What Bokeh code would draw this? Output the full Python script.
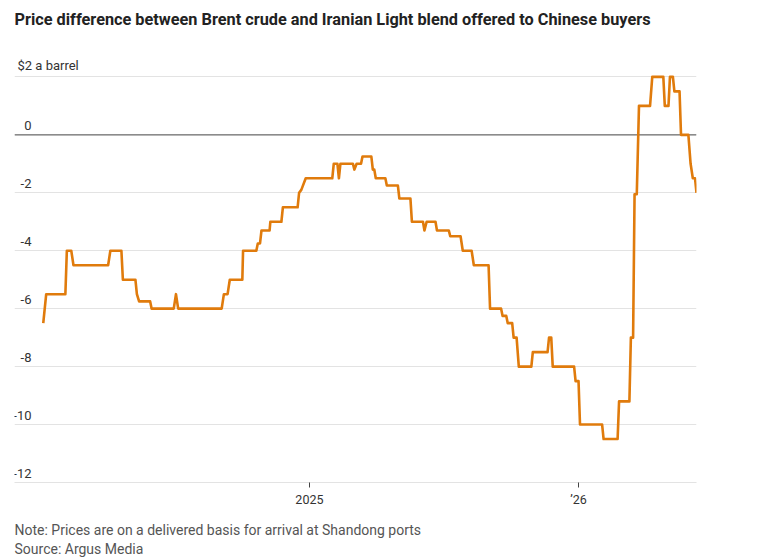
import pandas as pd
from bokeh.plotting import figure
from bokeh.models import ColumnDataSource, Range1d, FixedTicker, Span, Title
from bokeh.embed import file_html
from bokeh.resources import INLINE

# ---- data ----
dates = [
    "2024-01-06", "2024-01-10", "2024-02-05", "2024-02-07", "2024-02-13", "2024-02-16",
    "2024-04-03", "2024-04-06", "2024-04-21", "2024-04-23", "2024-05-10", "2024-05-12",
    "2024-05-15", "2024-05-30", "2024-06-01", "2024-07-01", "2024-07-04", "2024-07-07",
    "2024-09-04", "2024-09-07", "2024-09-12", "2024-09-15", "2024-10-02", "2024-10-03",
    "2024-10-21", "2024-10-23", "2024-10-26", "2024-10-28", "2024-11-08", "2024-11-09",
    "2024-11-24", "2024-11-26", "2024-12-16", "2024-12-18", "2024-12-21", "2024-12-27",
    "2025-02-01", "2025-02-03", "2025-02-08", "2025-02-10", "2025-02-12", "2025-03-01",
    "2025-03-03", "2025-03-06", "2025-03-12", "2025-03-14", "2025-03-26", "2025-03-28",
    "2025-03-30", "2025-04-01", "2025-04-14", "2025-04-16", "2025-05-01", "2025-05-03",
    "2025-05-18", "2025-05-20", "2025-06-04", "2025-06-06", "2025-06-09", "2025-06-21",
    "2025-06-23", "2025-07-09", "2025-07-11", "2025-07-25", "2025-07-28", "2025-08-09",
    "2025-08-12", "2025-09-01", "2025-09-03", "2025-09-18", "2025-09-20", "2025-09-25",
    "2025-09-27", "2025-10-03", "2025-10-05", "2025-10-09", "2025-10-12", "2025-10-29",
    "2025-10-31", "2025-11-20", "2025-11-22", "2025-11-25", "2025-11-27", "2025-12-26",
    "2025-12-28", "2026-01-01", "2026-01-03", "2026-02-02", "2026-02-04", "2026-02-23",
    "2026-02-25", "2026-03-11", "2026-03-13", "2026-03-16", "2026-03-18", "2026-03-21",
    "2026-03-24", "2026-04-08", "2026-04-11", "2026-04-26", "2026-04-28", "2026-05-03",
    "2026-05-05", "2026-05-09", "2026-05-11", "2026-05-18", "2026-05-20", "2026-05-30",
    "2026-06-02", "2026-06-05", "2026-06-08", "2026-06-10",
]
spread = [
    -6.5, -5.5, -5.5, -4.0, -4.0, -4.5,
    -4.5, -4.0, -4.0, -5.0, -5.0, -5.5,
    -5.75, -5.75, -6.0, -6.0, -5.5, -6.0,
    -6.0, -5.5, -5.5, -5.0, -5.0, -4.0,
    -4.0, -3.75, -3.75, -3.3, -3.3, -3.0,
    -3.0, -2.5, -2.5, -2.0, -1.9, -1.5,
    -1.5, -1.0, -1.0, -1.5, -1.0, -1.0,
    -1.2, -1.0, -1.0, -0.75, -0.75, -1.2,
    -1.2, -1.5, -1.5, -1.75, -1.75, -2.2,
    -2.2, -3.0, -3.0, -3.3, -3.0, -3.0,
    -3.3, -3.3, -3.5, -3.5, -4.0, -4.0,
    -4.5, -4.5, -6.0, -6.0, -6.25, -6.25,
    -6.5, -6.5, -7.0, -7.0, -8.0, -8.0,
    -7.5, -7.5, -7.0, -7.0, -8.0, -8.0,
    -8.5, -8.5, -10.0, -10.0, -10.5, -10.5,
    -9.2, -9.2, -7.0, -7.0, -2.05, -2.05,
    1.0, 1.0, 2.0, 2.0, 1.0, 1.0,
    2.0, 2.0, 1.5, 1.5, 0.0, 0.0,
    -1.0, -1.5, -1.5, -2.0,
]

ytick_values = [2, 0, -2, -4, -6, -8, -10, -12]
ytick_labels = ["$2 a barrel", "0", "-2", "-4", "-6", "-8", "-10", "-12"]

xtick_dates = ["2025-01-01", "2026-01-01"]
xtick_labels = ["2025", "\u201926"]

title_text = "Price difference between Brent crude and Iranian Light blend offered to Chinese buyers"
note_text = "Note: Prices are on a delivered basis for arrival at Shandong ports"
source_text = "Source: Argus Media"

FONT = "Roboto"
LINE_COLOR = "#e07b0c"

x_start = pd.Timestamp("2023-11-28")
x_end = pd.Timestamp("2026-06-10")

src = ColumnDataSource(dict(date=pd.to_datetime(dates), spread=spread))

p = figure(
    width=784, height=560,
    x_axis_type="datetime",
    x_range=Range1d(x_start, x_end),
    y_range=Range1d(-12, 2.6),
    output_backend="svg",
    toolbar_location=None,
    min_border_left=14, min_border_right=88,
    min_border_top=59, min_border_bottom=78,
)
p.outline_line_color = None
p.background_fill_color = "white"
p.border_fill_color = "white"

# main title (outer slot)
p.title.text = title_text
p.title.text_font = FONT
p.title.text_font_size = "16.3px"
p.title.text_font_style = "bold"
p.title.text_color = "#222222"
p.title.align = "left"
p.title.offset = 0
p.title.standoff = 0

# blank spacer between the title and the plot area
p.add_layout(Title(text=" ", text_font_size="1px", standoff=28), "above")

# grid
p.xgrid.visible = False
p.yaxis.visible = False
p.ygrid.ticker = FixedTicker(ticks=ytick_values)
p.ygrid.grid_line_color = "#e3e3e3"
p.ygrid.grid_line_width = 1

zero = Span(location=0, dimension="width", line_color="#6e6e6e", line_width=1.3, level="underlay")
p.add_layout(zero)

# x axis
xt_ms = [float(pd.Timestamp(d).value // 10**6) for d in xtick_dates]
p.xaxis.ticker = FixedTicker(ticks=xt_ms)
p.xaxis.major_label_overrides = {t: lab for t, lab in zip(xt_ms, xtick_labels)}
p.xaxis.axis_line_color = "#e3e3e3"
p.xaxis.major_tick_line_color = "#444444"
p.xaxis.major_tick_out = 5
p.xaxis.major_tick_in = 0
p.xaxis.minor_tick_line_color = None
p.xaxis.major_label_standoff = 4
p.xaxis.major_label_text_font = FONT
p.xaxis.major_label_text_font_size = "12.5px"
p.xaxis.major_label_text_color = "#333333"
p.xaxis.axis_label = " "
p.xaxis.axis_label_text_font_size = "5px"
p.xaxis.axis_label_standoff = 1

# footnotes
p.add_layout(Title(text=note_text, text_font=FONT, text_font_size="14px",
                   text_font_style="normal", text_color="#555555",
                   align="left", offset=0, standoff=0), "below")
p.add_layout(Title(text=source_text, text_font=FONT, text_font_size="14px",
                   text_font_style="normal", text_color="#555555",
                   align="left", offset=0, standoff=3), "below")

# line
p.line("date", "spread", source=src, line_color=LINE_COLOR, line_width=2.6, line_join="round")

# y tick labels inside the plot
num_src = ColumnDataSource(dict(
    x=[x_start] * (len(ytick_values) - 1),
    y=ytick_values[1:],
    t=ytick_labels[1:],
))
p.text("x", "y", text="t", source=num_src, x_offset=17, y_offset=-5,
       text_align="right", text_baseline="bottom",
       text_font={"value": FONT}, text_font_size="13px", text_color="#333333")
unit_src = ColumnDataSource(dict(x=[x_start], y=ytick_values[:1], t=ytick_labels[:1]))
p.text("x", "y", text="t", source=unit_src, x_offset=3, y_offset=-4,
       text_align="left", text_baseline="bottom",
       text_font={"value": FONT}, text_font_size="13px", text_color="#333333")

open("out.html", "w").write(file_html(p, INLINE))
